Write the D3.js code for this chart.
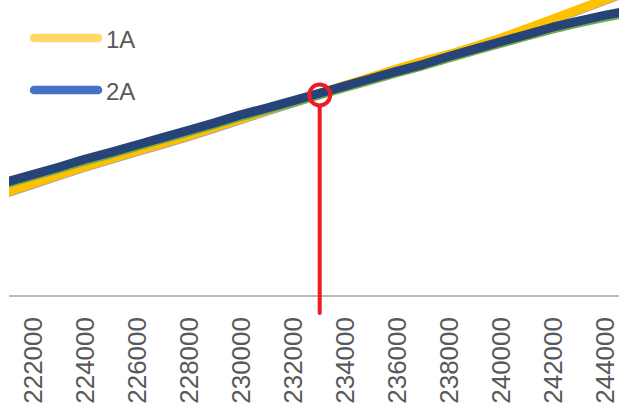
<!DOCTYPE html>
<html>
<head>
<meta charset="utf-8">
<script src="https://cdn.jsdelivr.net/npm/d3@7"></script>
<style>
    html, body { margin: 0; padding: 0; background: #fff; }
    svg { display: block; }
</style>
</head>
<body>
<svg id="chart" width="619" height="412"></svg>
<script>
(function(){
'use strict';

    // x values (every 1000) and the four series
    var xValues = [221000, 222000, 223000, 224000, 225000, 226000, 227000, 228000, 229000, 230000,
                   231000, 232000, 233000, 234000, 235000, 236000, 237000, 238000, 239000, 240000,
                   241000, 242000, 243000, 244000, 245000];

    var grey = [33.6, 36.5, 39.4, 42.3, 44.9, 47.5, 50.1, 52.7, 55.5, 58.3, 61.2, 64.0, 66.8,
                69.6, 72.4, 75.2, 77.8, 80.1, 82.8, 85.6, 88.8, 92.0, 95.3, 98.6, 101.9];
    var series1A = [35.1, 38.0, 40.9, 43.8, 46.4, 49.0, 51.6, 54.2, 57.0, 59.8, 62.7, 65.5, 68.3,
                    71.1, 73.9, 76.7, 79.3, 81.6, 84.3, 87.1, 90.3, 93.5, 96.8, 100.1, 103.4];
    var green = [36.8, 39.3, 41.8, 44.4, 46.8, 49.3, 51.8, 54.3, 56.8, 59.4, 61.8, 64.2, 66.7,
                 69.2, 71.7, 74.2, 76.6, 79.2, 81.7, 84.2, 86.6, 89.0, 91.1, 93.0, 94.7];
    var series2A = [38.5, 41.0, 43.5, 46.2, 48.5, 51.0, 53.5, 56.0, 58.5, 61.2, 63.5, 65.9, 68.4,
                    70.9, 73.4, 75.9, 78.2, 80.9, 83.4, 85.9, 88.3, 90.8, 92.9, 94.8, 96.5];

    var tickLabels = [222000, 224000, 226000, 228000, 230000, 232000, 234000,
                      236000, 238000, 240000, 242000, 244000];

    var legendNames = ['1A', '2A'];
    var markerX = 233050, markerY = 67.9;

    var svg = d3.select('#chart'),
        width = 619,
        axisY = 296;

    var xScale = d3.scaleLinear().domain([221100, 244600]).range([9, 620]),
        yScale = d3.scaleLinear().domain([0, 100]).range([axisY, 0]);

    svg.append('defs').append('clipPath')
        .attr('id', 'plot-clip')
        .append('rect')
        .attr('x', xScale.range()[0])
        .attr('y', 0)
        .attr('width', width - xScale.range()[0])
        .attr('height', axisY);

    var line = d3.line()
        .x(function(d) { return xScale(d.x); })
        .y(function(d) { return yScale(d.y); });

    var toPoints = function(values) {
        return values.map(function(v, i) { return {x: xValues[i], y: v}; });
    };

    // drawn bottom to top: grey, yellow, green, blue
    var lines = [
        {values: grey,     color: '#a5a5a5', width: 2.5},
        {values: series1A, color: '#ffc000', width: 9},
        {values: green,    color: '#70ad47', width: 2.5},
        {values: series2A, color: '#264478', width: 9}
    ];

    var plot = svg.append('g').attr('clip-path', 'url(#plot-clip)');
    plot.selectAll('path.series').data(lines)
        .enter().append('path')
        .attr('class', 'series')
        .attr('d', function(d) { return line(toPoints(d.values)); })
        .attr('fill', 'none')
        .attr('stroke', function(d) { return d.color; })
        .attr('stroke-width', function(d) { return d.width; })
        .attr('stroke-linejoin', 'round');

    // x axis: only the line and rotated labels
    var xAxis = d3.axisBottom(xScale)
        .tickValues(tickLabels)
        .tickSize(0)
        .tickFormat(d3.format('d'));

    var gx = svg.append('g')
        .attr('transform', 'translate(0,' + axisY + ')')
        .call(xAxis);
    gx.select('.domain')
        .attr('d', 'M' + xScale.range()[0] + ',0H' + width)
        .attr('stroke', '#a6a6a6')
        .attr('stroke-width', 1.5);
    gx.selectAll('.tick text')
        .attr('transform', 'rotate(-90)')
        .attr('x', -21)
        .attr('y', 0)
        .attr('dy', '0.36em')
        .attr('text-anchor', 'end')
        .attr('fill', '#595959')
        .style('font-family', '"Liberation Sans", Arial, sans-serif')
        .style('font-size', '26px');

    // red marker
    var marker = svg.append('g');
    marker.append('line')
        .attr('x1', xScale(markerX))
        .attr('x2', xScale(markerX))
        .attr('y1', yScale(markerY) + 11)
        .attr('y2', axisY + 17)
        .attr('stroke', '#ed1c24')
        .attr('stroke-width', 4)
        .attr('stroke-linecap', 'round');
    marker.append('circle')
        .attr('cx', xScale(markerX))
        .attr('cy', yScale(markerY))
        .attr('r', 10.5)
        .attr('fill', 'none')
        .attr('stroke', '#ed1c24')
        .attr('stroke-width', 4);

    // legend
    var legendColors = ['#ffd966', '#4472c4'];
    var legend = svg.selectAll('g.legend').data(legendNames)
        .enter().append('g')
        .attr('class', 'legend')
        .attr('transform', function(d, i) { return 'translate(0,' + (38 + i * 52) + ')'; });
    legend.append('line')
        .attr('x1', 34).attr('x2', 98)
        .attr('y1', 0).attr('y2', 0)
        .attr('stroke', function(d, i) { return legendColors[i]; })
        .attr('stroke-width', 8.5)
        .attr('stroke-linecap', 'round');
    legend.append('text')
        .attr('x', 106)
        .attr('y', 9.5)
        .attr('fill', '#595959')
        .style('font-family', '"Liberation Sans", Arial, sans-serif')
        .style('font-size', '24px')
        .text(function(d) { return d; });

})();
</script>
</body>
</html>
